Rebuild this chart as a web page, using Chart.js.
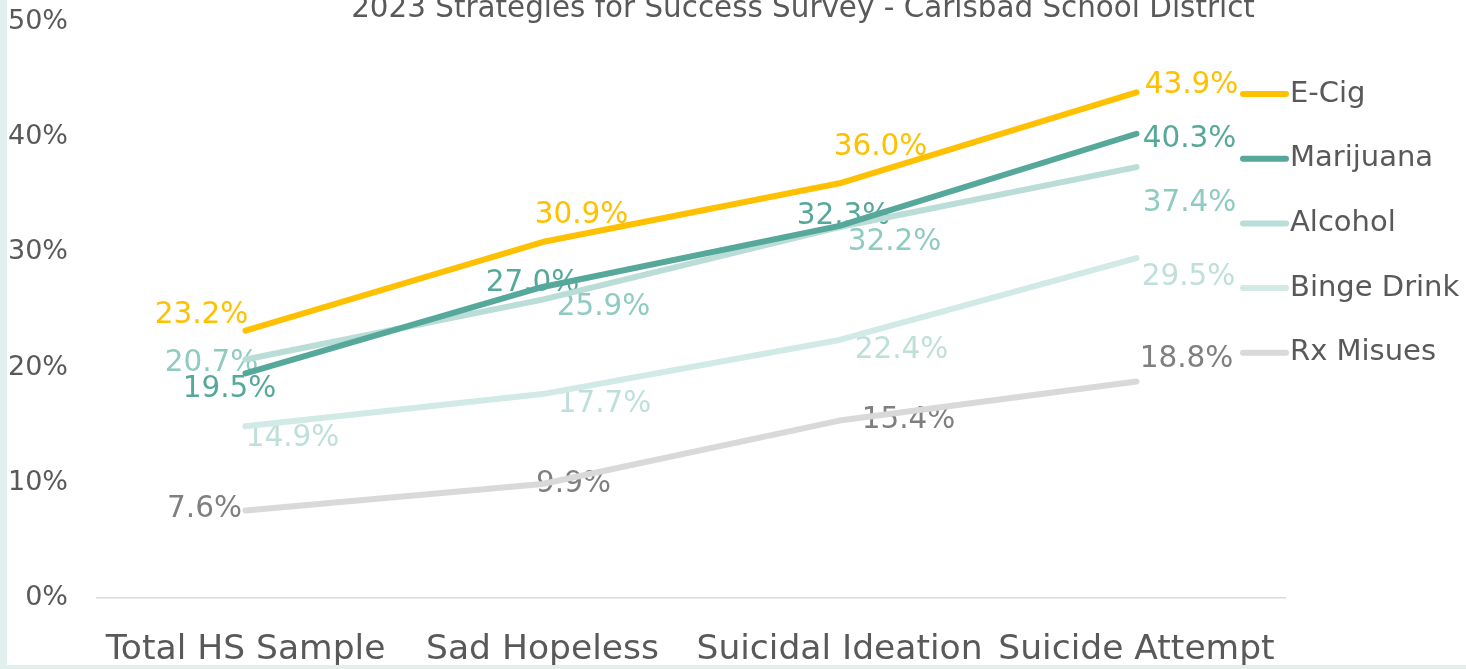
<!DOCTYPE html>
<html>
<head>
<meta charset="utf-8">
<script src="https://cdn.jsdelivr.net/npm/chart.js@4/dist/chart.umd.min.js"></script>
<style>
  html, body { margin: 0; padding: 0; background: #E1F0EC; width: 1466px; height: 669px; overflow: hidden; }
  #wrap { position: absolute; left: 7px; top: 0; width: 1459px; height: 665px; background: #ffffff; overflow: hidden; }
  #c { position: absolute; left: 0; top: 0; }
</style>
</head>
<body>
<div id="wrap"><canvas id="c" width="1459" height="665"></canvas></div>
<script>
// ---- data ----
const titleText = '2023 Strategies for Success Survey - Carlsbad School District';
const categories = ['Total HS Sample', 'Sad Hopeless', 'Suicidal Ideation', 'Suicide Attempt'];
const seriesNames = ['E-Cig', 'Marijuana', 'Alcohol', 'Binge Drink', 'Rx Misues'];
const eCig      = [23.2, 30.9, 36.0, 43.9];
const marijuana = [19.5, 27.0, 32.3, 40.3];
const alcohol   = [20.7, 25.9, 32.2, 37.4];
const bingeDrink= [14.9, 17.7, 22.4, 29.5];
const rxMisuse  = [7.6, 9.9, 15.4, 18.8];
const yTicks = [0, 10, 20, 30, 40, 50];

// ---- styles ----
const lineColors  = ['#FFC000', '#56A89B', '#BADDD7', '#D2EAE6', '#D9D9D9'];
const labelColors = ['#FFC000', '#56A89B', '#8FCBC0', '#BFE0DA', '#7F7F7F'];
// data label offsets (px) relative to each point
const labelOffsets = [
  [[-44,-15],[39,-27],[41,-36],[55,-7]],
  [[-16,16],[-10,-4],[4,-10],[53,6]],
  [[-34,4],[61,8],[55,15],[53,36]],
  [[47,12],[62,10],[62,10],[52,19]],
  [[-41,-1],[31,0],[69,0],[50,-22]]
];
const FONT = "'DejaVu Sans', Verdana, sans-serif";
const TEXT = '#595959';

const values = [eCig, marijuana, alcohol, bingeDrink, rxMisuse];

const dataLabelPlugin = {
  id: 'dataLabels',
  beforeDatasetsDraw(chart) {
    const ctx = chart.ctx;
    ctx.save();
    ctx.font = '29.5px ' + FONT;
    ctx.textAlign = 'center';
    ctx.textBaseline = 'middle';
    chart.data.datasets.forEach((ds, i) => {
      const meta = chart.getDatasetMeta(i);
      meta.data.forEach((pt, j) => {
        const off = labelOffsets[i][j];
        ctx.fillStyle = labelColors[i];
        ctx.fillText(ds.data[j].toFixed(1) + '%', pt.x + off[0], pt.y + off[1]);
      });
    });
    ctx.restore();
  }
};

const titleLegendPlugin = {
  id: 'titleLegend',
  afterDraw(chart) {
    const ctx = chart.ctx;
    ctx.save();
    // title
    ctx.font = '29.4px ' + FONT;
    ctx.fillStyle = TEXT;
    ctx.textAlign = 'center';
    ctx.textBaseline = 'middle';
    ctx.fillText(titleText, 796, 9);
    // legend
    ctx.font = '29px ' + FONT;
    ctx.textAlign = 'left';
    chart.data.datasets.forEach((ds, i) => {
      const y = 94 + i * 64.7;
      ctx.strokeStyle = ds.borderColor;
      ctx.lineWidth = 6;
      ctx.lineCap = 'round';
      ctx.beginPath();
      ctx.moveTo(1236, y);
      ctx.lineTo(1279, y);
      ctx.stroke();
      ctx.fillStyle = TEXT;
      ctx.fillText(ds.label, 1283, y);
    });
    ctx.restore();
  }
};

new Chart(document.getElementById('c'), {
  type: 'line',
  data: {
    labels: categories,
    datasets: seriesNames.map((n, i) => ({
      label: n,
      data: values[i],
      borderColor: lineColors[i],
      backgroundColor: lineColors[i],
      borderWidth: 6,
      borderCapStyle: 'round',
      borderJoinStyle: 'round',
      pointRadius: 0,
      pointHoverRadius: 0,
      tension: 0,
      fill: false
    }))
  },
  options: {
    responsive: false,
    animation: false,
    devicePixelRatio: 1,
    layout: { padding: { top: 22, right: 181, left: 0, bottom: 0 } },
    plugins: {
      legend: { display: false },
      title: { display: false },
      tooltip: { enabled: false }
    },
    scales: {
      x: {
        type: 'category',
        offset: true,
        grid: { display: false, drawTicks: false },
        border: { display: true, color: '#D9D9D9', width: 1.5 },
        ticks: { color: TEXT, font: { family: FONT, size: 34.5 }, padding: 31, maxRotation: 0, autoSkip: false },
        afterFit(s) { s.height = 67; }
      },
      y: {
        min: 0, max: 50,
        afterBuildTicks(s) { s.ticks = yTicks.map(v => ({ value: v })); },
        grid: { display: false, drawTicks: false },
        border: { display: false },
        ticks: { color: TEXT, font: { family: FONT, size: 27 }, padding: 29, callback: v => v + '%' },
        afterFit(s) { s.width = 90; s.paddingTop = 14; s.paddingBottom = 14; }
      }
    }
  },
  plugins: [dataLabelPlugin, titleLegendPlugin]
});
</script>
</body>
</html>
